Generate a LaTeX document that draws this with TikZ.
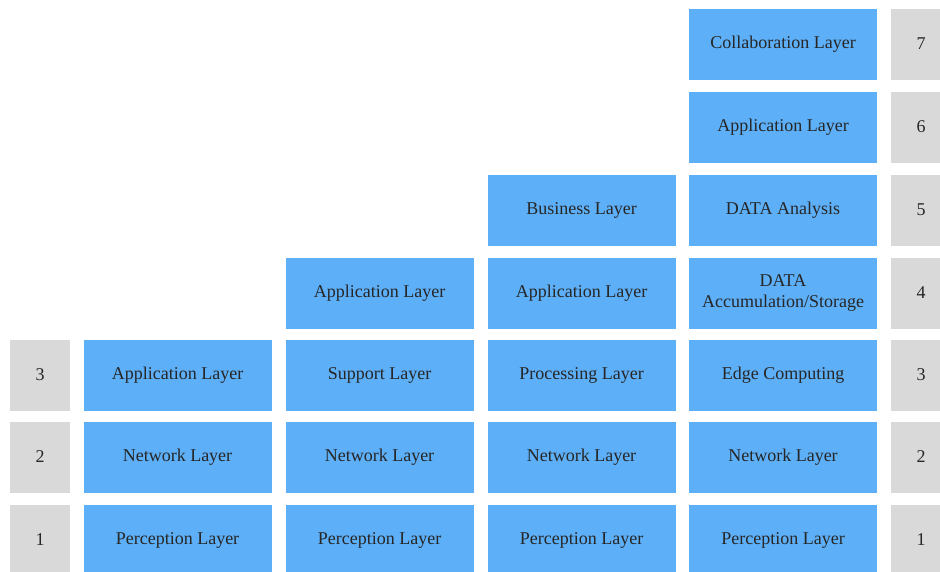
\documentclass[tikz,border=0pt]{standalone}
\usepackage{fontspec}
\setmainfont{Liberation Serif}
\begin{document}
\begin{tikzpicture}[x=1pt,y=-1pt,
  layer/.style={fill=layerblue,draw=none,minimum width=188pt,minimum height=71pt,
    inner sep=0pt,align=center,font=\fontsize{18}{21}\selectfont,text=black!85},
  num/.style={fill=numgray,draw=none,minimum width=60pt,minimum height=71pt,
    inner sep=0pt,font=\fontsize{18}{21}\selectfont,text=black!85}]
\definecolor{layerblue}{RGB}{93,175,247}
\definecolor{numgray}{RGB}{217,217,217}
\useasboundingbox (0,0) rectangle (940,571);
\clip (0,0) rectangle (940,571);
% row centres (top to bottom: levels 7..1)
\def\rowseven{44}\def\rowsix{127}\def\rowfive{210}\def\rowfour{293}
\def\rowthree{375}\def\rowtwo{457}\def\rowone{540}
% left level numbers
\node[num] (l3) at (40,\rowthree) {3};
\node[num] (l2) at (40,\rowtwo) {2};
\node[num] (l1) at (40,\rowone) {1};
% column 1: three-layer model
\node[layer] (a3) at (177.5,\rowthree) {Application Layer};
\node[layer] (a2) at (177.5,\rowtwo) {Network Layer};
\node[layer] (a1) at (177.5,\rowone) {Perception Layer};
% column 2: four-layer model
\node[layer] (b4) at (379.5,\rowfour) {Application Layer};
\node[layer] (b3) at (379.5,\rowthree) {Support Layer};
\node[layer] (b2) at (379.5,\rowtwo) {Network Layer};
\node[layer] (b1) at (379.5,\rowone) {Perception Layer};
% column 3: five-layer model
\node[layer] (c5) at (581.5,\rowfive) {Business Layer};
\node[layer] (c4) at (581.5,\rowfour) {Application Layer};
\node[layer] (c3) at (581.5,\rowthree) {Processing Layer};
\node[layer] (c2) at (581.5,\rowtwo) {Network Layer};
\node[layer] (c1) at (581.5,\rowone) {Perception Layer};
% column 4: seven-layer model
\node[layer] (d7) at (783,\rowseven) {Collaboration Layer};
\node[layer] (d6) at (783,\rowsix) {Application Layer};
\node[layer] (d5) at (783,\rowfive) {DATA Analysis};
\node[layer] (d4) at (783,\rowfour) {DATA\\Accumulation/Storage};
\node[layer] (d3) at (783,\rowthree) {Edge Computing};
\node[layer] (d2) at (783,\rowtwo) {Network Layer};
\node[layer] (d1) at (783,\rowone) {Perception Layer};
% right level numbers
\node[num] (r7) at (921,\rowseven) {7};
\node[num] (r6) at (921,\rowsix) {6};
\node[num] (r5) at (921,\rowfive) {5};
\node[num] (r4) at (921,\rowfour) {4};
\node[num] (r3) at (921,\rowthree) {3};
\node[num] (r2) at (921,\rowtwo) {2};
\node[num] (r1) at (921,\rowone) {1};
\end{tikzpicture}
\end{document}
